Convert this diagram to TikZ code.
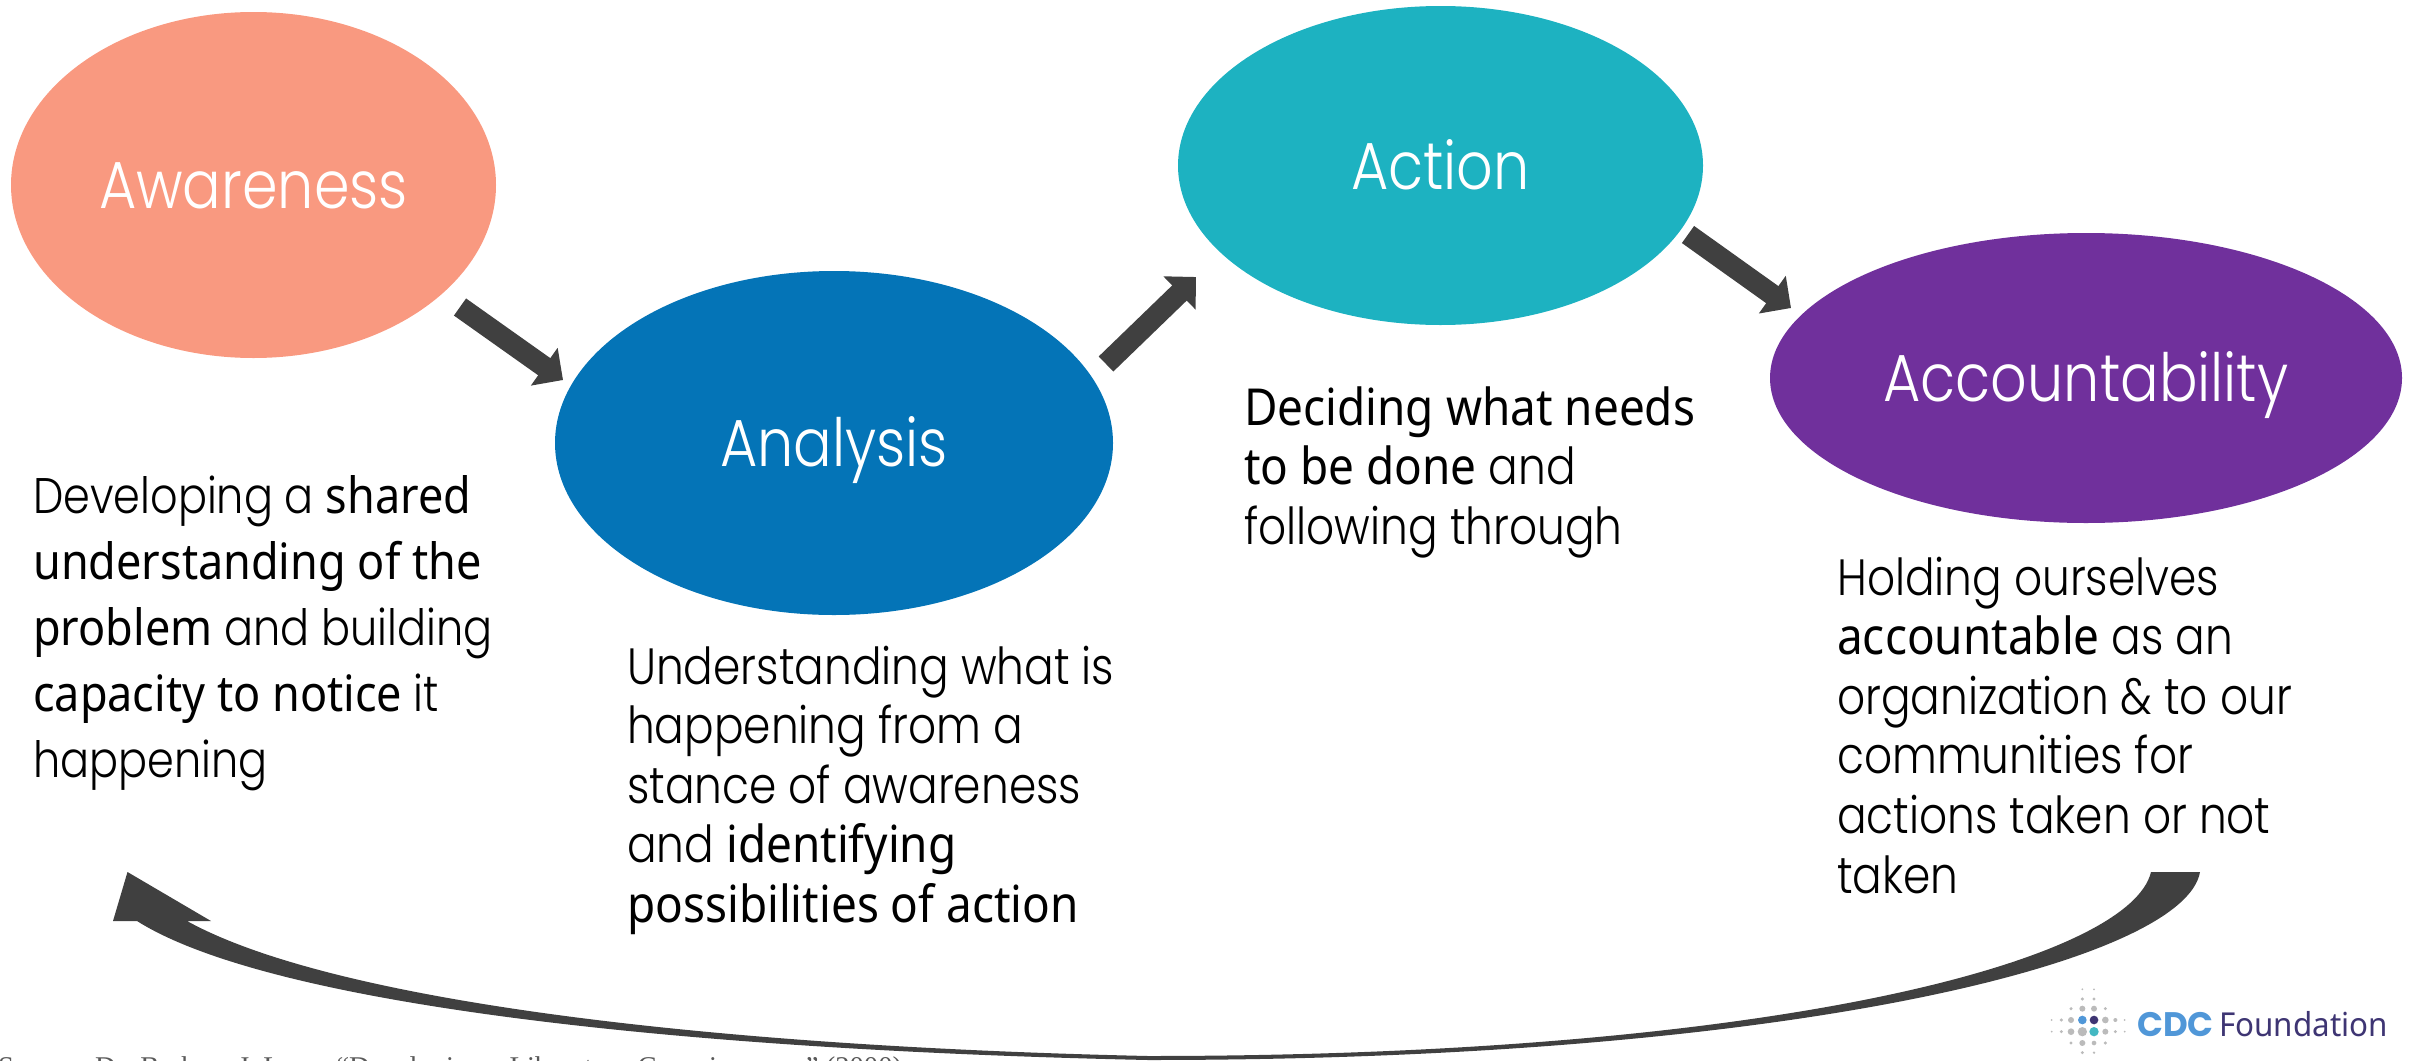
\documentclass[tikz,border=0pt]{standalone}
\usetikzlibrary{shapes.geometric,arrows.meta}
\usepackage{fontspec}
\setmainfont{Poppins Light}[FakeStretch=0.86,BoldFont={Noto Sans},BoldFeatures={FakeStretch=0.9}]
\newfontfamily\logobold{Poppins}
\newfontfamily\logoreg{Noto Sans}[FakeStretch=0.95]
\newfontfamily\srcfont{Liberation Serif}
\definecolor{salmon}{HTML}{F99980}
\definecolor{blueA}{HTML}{0474B7}
\definecolor{tealA}{HTML}{1DB2C1}
\definecolor{purpleA}{HTML}{70309C}
\definecolor{arrowgray}{HTML}{404040}
\definecolor{dotgray}{HTML}{BBBBBB}
\definecolor{logoblue}{HTML}{5097D8}
\definecolor{logonavy}{HTML}{3E3573}
\definecolor{logoteal}{HTML}{44B8C2}
\tikzset{
  stage/.style={ellipse,inner sep=0pt,text=white,text height=47pt,text depth=0pt,font=\fontsize{66.5}{70}\selectfont},
  bodytxt/.style={anchor=base west,inner sep=0pt,text=black,font=\fontsize{51}{59.6}\selectfont},
  bodybig/.style={bodytxt,font=\fontsize{50}{66}\selectfont},
  blockarrow/.style={draw=arrowgray,line width=21pt,-{Triangle[length=23pt,width=45pt,fill=arrowgray]}},
}
\begin{document}
\begin{tikzpicture}[x=1pt,y=-1pt]
\useasboundingbox (0,0) rectangle (2417,1060);
\clip (0,0) rectangle (2417,1060);
% ellipses
\node[stage,fill=salmon,minimum width=485pt,minimum height=346pt] (aware) at (253.5,185) {Awareness};
\node[stage,fill=blueA,minimum width=558pt,minimum height=344pt] (analysis) at (834,443) {Analysis};
\node[stage,fill=tealA,minimum width=525pt,minimum height=319pt] (action) at (1440.5,165.5) {Action};
\node[stage,fill=purpleA,minimum width=632pt,minimum height=290pt] (account) at (2086,378) {Accountability};
% block arrows
\coordinate (a1s) at (460,307); \coordinate (a1e) at (563,380);
\coordinate (a2s) at (1106,364); \coordinate (a2e) at (1196,277);
\coordinate (a3s) at (1688,234.5); \coordinate (a3e) at (1791,308);
\draw[blockarrow] (a1s) -- (a1e);
\draw[blockarrow] (a2s) -- (a2e);
\draw[blockarrow] (a3s) -- (a3e);
% body text
\node[bodybig] (t1) at (33,513) {\vtop{%
 \hbox{Developing a \textbf{shared}}
 \hbox{\textbf{understanding of the}}
 \hbox{\textbf{problem} and building}
 \hbox{\textbf{capacity to notice} it}
 \hbox{happening}}};
\node[bodytxt] (t2) at (627,684) {\vtop{%
 \hbox{Understanding what is}
 \hbox{happening from a}
 \hbox{stance of awareness}
 \hbox{and \textbf{identifying}}
 \hbox{\textbf{possibilities of action}}}};
\node[bodytxt] (t3) at (1244,425) {\vtop{%
 \hbox{\textbf{Deciding what needs}}
 \hbox{\textbf{to be done} and}
 \hbox{following through}}};
\node[bodytxt] (t4) at (1837,595) {\vtop{%
 \hbox{Holding ourselves}
 \hbox{\textbf{accountable} as an}
 \hbox{organization \& to our}
 \hbox{communities for}
 \hbox{actions taken or not}
 \hbox{taken}}};
% long curved arrow
\fill[arrowgray] (2151,872) -- (2200,872)
  .. controls (2185,960) and (1800,1060) .. (1148,1060)
  .. controls (680,1050) and (270,1005) .. (137,921)
  -- (113,921) -- (127.5,872) -- (211,921) -- (187,921)
  .. controls (330,1000) and (700,1046) .. (1148,1056)
  .. controls (1780,1056) and (2130,960) .. (2151,872) -- cycle;
% source
\node[anchor=base west,inner sep=0pt,text=black!65,font=\srcfont\fontsize{28.6}{30}\selectfont] (src) at (-2,1076) {Source: Dr. Barbara J. Love, “Developing a Liberatory Consciousness” (2000)};
% logo
\foreach \x/\y/\r in {127/58/3,162/58/3,127/87/5,162/87/5,93/116/5,127/116/9,162/116/9,196/116/5,
  35/150/3,64/150/5,93/150/9,196/150/10,226/150/6,254/150/3,
  35/185/3,64/185/5,93/185/10,127/185/14,196/185/9,226/185/5,254/185/3,
  93/219/5,127/219/9,162/219/7,196/219/5,127/248/5,162/248/4}
  {\fill[dotgray] (2040+\x/3,970+\y/3) circle[radius=\r/3];}
\fill[logoblue] (2040+127/3,970+150/3) circle[radius=13/3];
\fill[logonavy] (2040+162/3,970+150/3) circle[radius=13/3];
\fill[logoteal] (2040+162/3,970+185/3) circle[radius=14/3];
\node[anchor=base west,inner sep=0pt,text=logoblue,font=\logobold\bfseries\fontsize{34}{36}\selectfont] (cdc) at (2137,1036) {CDC};
\node[anchor=base west,inner sep=0pt,text=logonavy,font=\logoreg\fontsize{33}{36}\selectfont] (fdn) at (2219,1036) {Foundation};
\end{tikzpicture}
\end{document}
